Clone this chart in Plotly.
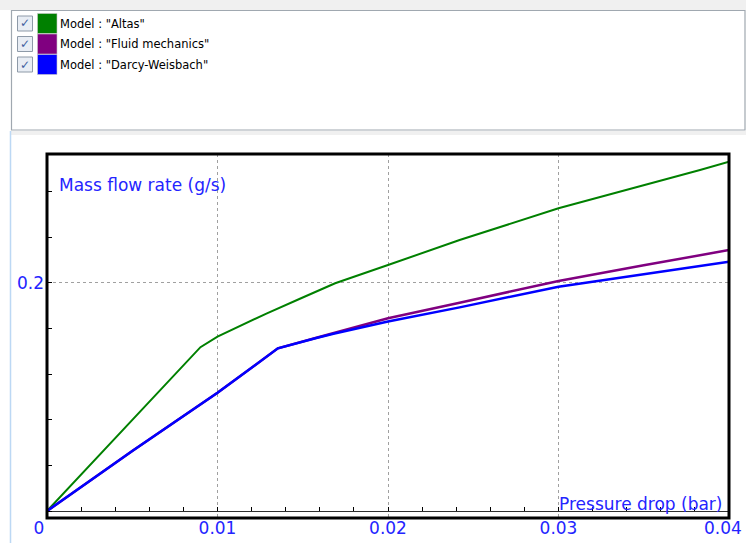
import plotly.graph_objects as go

# ---- data -------------------------------------------------------------
model_names = ["Altas", "Fluid mechanics", "Darcy-Weisbach"]
model_colors = ["#008000", "#800080", "#0000ff"]
line_widths = [2, 2.5, 2.5]

# Pressure drop (bar) / mass flow rate (g/s)
altas_dp = [0, 0.003, 0.006, 0.0090, 0.0100, 0.0129, 0.0148, 0.0169,
            0.0200, 0.0242, 0.0300, 0.0351, 0.0383, 0.0400]
altas_flow = [0, 0.048, 0.096, 0.1435, 0.1527, 0.1732, 0.1857, 0.1995,
              0.2155, 0.2374, 0.2652, 0.2856, 0.2987, 0.3060]

pipe_dp = [0, 0.005, 0.010, 0.01354, 0.0158, 0.0168, 0.0200, 0.0242,
           0.0300, 0.0350, 0.0400]
fluid_flow = [0, 0.0525, 0.1035, 0.1425, 0.1517, 0.1558, 0.1688, 0.1825,
              0.2015, 0.2152, 0.2286]
darcy_flow = [0, 0.0525, 0.1035, 0.1425, 0.1515, 0.1553, 0.1660, 0.1784,
              0.1965, 0.2077, 0.2184]

x_tick_vals = [0, 0.01, 0.02, 0.03, 0.04]
x_tick_text = ["0\u00a0\u00a0\u00a0", "0.01", "0.02", "0.03", "0.04"]
y_tick_vals = [0.2]
y_tick_text = ["0.2"]

x_title = "Pressure drop (bar)"
y_title = "Mass flow rate (g/s)"

# ---- geometry helpers ---------------------------------------------------
W, H = 746, 543
L, R, T, B = 47, 729, 154, 518          # plot frame in pixels


def px_x(p):
    return (p - L) / (R - L)


def px_y(p):
    return (B - p) / (B - T)


TEXT_BLUE = "#2424ff"
FONT = "DejaVu Sans"
TICK_FONT = dict(family=FONT, size=17, color=TEXT_BLUE)

series = [(altas_dp, altas_flow), (pipe_dp, fluid_flow), (pipe_dp, darcy_flow)]

fig = go.Figure()
for name, color, lw, (xs, ys) in zip(model_names, model_colors, line_widths, series):
    fig.add_trace(go.Scatter(x=xs, y=ys, mode="lines", name=name,
                             line=dict(color=color, width=lw),
                             showlegend=False))

shapes = []
annotations = []

# window chrome around the legend panel
shapes.append(dict(type="rect", xref="paper", yref="paper",
                   x0=px_x(0), x1=px_x(746), y0=px_y(10), y1=px_y(0),
                   fillcolor="#f0f0f0", line=dict(width=0), layer="below"))
shapes.append(dict(type="rect", xref="paper", yref="paper",
                   x0=px_x(11.5), x1=px_x(745), y0=px_y(130), y1=px_y(10.5),
                   fillcolor="white", line=dict(color="#a0a8b0", width=1.2),
                   layer="below"))
shapes.append(dict(type="rect", xref="paper", yref="paper",
                   x0=px_x(11), x1=px_x(746), y0=px_y(135), y1=px_y(131),
                   fillcolor="#f0f0f0", line=dict(width=0), layer="below"))
shapes.append(dict(type="line", xref="paper", yref="paper",
                   x0=px_x(10.5), x1=px_x(10.5), y0=px_y(543), y1=px_y(131),
                   line=dict(color="#bcd8f4", width=1.5), layer="below"))

# legend rows: checkbox, colour swatch, label
for i, (name, color) in enumerate(zip(model_names, model_colors)):
    cy = 23.5 + 20.5 * i
    shapes.append(dict(type="rect", xref="paper", yref="paper",
                       x0=px_x(17.5), x1=px_x(32.5), y0=px_y(cy + 7.5), y1=px_y(cy - 7.5),
                       fillcolor="#e8edf4", line=dict(color="#8e9aa8", width=1)))
    annotations.append(dict(x=px_x(25), y=px_y(cy), xref="paper", yref="paper",
                            text="\u2713", showarrow=False, xanchor="center",
                            yanchor="middle",
                            font=dict(family=FONT, size=12, color="#3f5f9f")))
    shapes.append(dict(type="rect", xref="paper", yref="paper",
                       x0=px_x(37.5), x1=px_x(57), y0=px_y(cy + 10), y1=px_y(cy - 10),
                       fillcolor=color, line=dict(color="#c8c8c8", width=0.6)))
    annotations.append(dict(x=px_x(58), y=px_y(cy + 0.5), xref="paper", yref="paper",
                            text=f'Model : "{name}"', showarrow=False,
                            xanchor="left", yanchor="middle",
                            font=dict(family=FONT, size=11.5, color="black")))

# heavy plot frame
shapes.append(dict(type="rect", xref="paper", yref="paper", x0=0, x1=1, y0=0, y1=1,
                   line=dict(color="black", width=3), layer="above"))

# axis titles drawn inside the frame
annotations.append(dict(x=px_x(57), y=px_y(173), xref="paper", yref="paper",
                        text=y_title, showarrow=False, xanchor="left", yanchor="top",
                        font=dict(family=FONT, size=17, color=TEXT_BLUE)))
annotations.append(dict(x=px_x(724), y=px_y(516), xref="paper", yref="paper",
                        text=x_title, showarrow=False, xanchor="right", yanchor="bottom",
                        font=dict(family=FONT, size=17, color=TEXT_BLUE)))

# the last x label sits against the right window edge
annotations.append(dict(x=x_tick_vals[-1], y=px_y(528), xref="x", yref="paper",
                        xshift=15, text=x_tick_text[-1], showarrow=False,
                        xanchor="right", yanchor="middle", font=TICK_FONT))
axis_tick_text = x_tick_text[:-1] + [""]

grid_style = dict(showgrid=True, gridcolor="#a0a0a0", gridwidth=1, griddash="3px,3px")

fig.update_layout(
    width=W, height=H,
    margin=dict(l=L, r=W - R, t=T, b=H - B, pad=0, autoexpand=False),
    paper_bgcolor="white", plot_bgcolor="white",
    shapes=shapes, annotations=annotations,
    xaxis=dict(range=[0, 0.04], anchor="free", position=px_y(511),
               automargin=False, ticklabeloverflow="allow",
               tickvals=x_tick_vals, ticktext=axis_tick_text,
               ticks="inside", ticklen=4, tickcolor="black", tickwidth=1,
               showline=True, linecolor="#303030", linewidth=1,
               zeroline=False, ticklabelstandoff=2,
               tickfont=TICK_FONT,
               minor=dict(dtick=0.002, tick0=0, ticks="inside", ticklen=4,
                          tickcolor="black", showgrid=False),
               **grid_style),
    yaxis=dict(range=[-7 / 1141.5, (511 - T) / 1141.5],
               automargin=False,
               tickvals=y_tick_vals, ticktext=y_tick_text,
               ticks="inside", ticklen=5, tickcolor="black",
               showline=False, zeroline=False, ticklabelstandoff=2,
               tickfont=TICK_FONT,
               minor=dict(dtick=0.04, tick0=0, ticks="inside", ticklen=5,
                          tickcolor="black", showgrid=False),
               **grid_style),
)

fig.write_html("out.html")
